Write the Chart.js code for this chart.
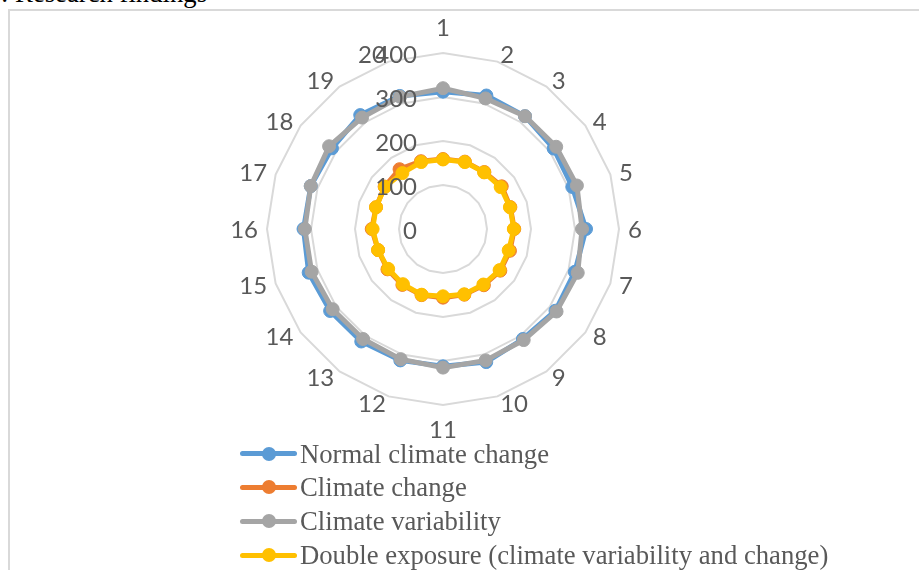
<!DOCTYPE html>
<html>
<head>
<meta charset="utf-8">
<script src="https://cdn.jsdelivr.net/npm/chart.js@4.4.1/dist/chart.umd.min.js"></script>
<style>
  html, body { margin: 0; padding: 0; background: #fff; overflow: hidden; }
  #wrap { position: relative; width: 919px; height: 570px; }
  #frame { position: absolute; left: 8px; top: 9px; width: 1000px; height: 700px;
           border-top: 2px solid #d9d9d9; border-left: 2px solid #d9d9d9; }
  #title { position: absolute; left: 1px; top: -22px; font: 26.7px/30px "Liberation Serif", "Times New Roman", serif;
           color: #000; white-space: nowrap; }
  canvas { position: absolute; left: 0; top: 0; }
  .row { position: absolute; left: 0; height: 30px; width: 919px; }
  .row .ln { position: absolute; left: 240px; top: 12.5px; width: 57px; height: 5px; border-radius: 2.5px; }
  .row .dot { position: absolute; left: 261.5px; top: 8px; width: 14px; height: 14px; border-radius: 7px; }
  .row .tx { position: absolute; left: 300px; top: 0; font: 26.7px/30px "Liberation Serif", "Times New Roman", serif;
             color: #595959; white-space: nowrap; }
</style>
</head>
<body>
<div id="wrap">
  <div id="frame"></div>
  <div id="title">: Research findings</div>
  <canvas id="myChart" width="919" height="570"></canvas>
  <div id="legend"></div>
</div>
<script>
// categorias 1..20
const categories = ['1','2','3','4','5','6','7','8','9','10','11','12','13','14','15','16','17','18','19','20'];

const seriesNames = [
  'Normal climate change',
  'Climate change',
  'Climate variability',
  'Double exposure (climate variability and change)'
];
const seriesColors = ['#5B9BD5', '#ED7D31', '#A5A5A5', '#FFC000'];

// valores
const normalClimateChange = [312, 319, 317, 311, 309, 325, 315, 316, 309, 318, 312, 314, 316, 317, 321, 317, 316, 312, 320, 318];
const climateChange       = [159, 161, 160, 165, 161, 162, 160, 161, 158, 157, 156, 158, 157, 156, 155, 162, 160, 164, 168, 162];
const climateVariability  = [320, 312, 317, 318, 320, 316, 322, 319, 312, 314, 315, 311, 309, 310, 314, 314, 316, 320, 313, 316];
const doubleExposure      = [158, 160, 159, 162, 160, 161, 157, 159, 156, 156, 153, 157, 155, 154, 155, 160, 160, 163, 157, 160];

const tickValues = [0, 100, 200, 300, 400];

const seriesValues = [normalClimateChange, climateChange, climateVariability, doubleExposure];

const labelFont = '24px Lato, "Liberation Sans", sans-serif';
const labelColor = '#595959';

// desenha rótulos no estilo do Excel (ticks à esquerda do eixo, categorias ao redor)
const excelLabels = {
  id: 'excelLabels',
  afterDraw(chart) {
    const r = chart.scales.r;
    const ctx = chart.ctx;
    ctx.save();
    ctx.fillStyle = labelColor;
    ctx.font = labelFont;
    ctx.textBaseline = 'alphabetic';

    ctx.textAlign = 'right';
    tickValues.forEach(v => {
      const y = r.yCenter - r.getDistanceFromCenterForValue(v);
      ctx.fillText(String(v), r.xCenter - 26, y + 10);
    });

    chart.data.labels.forEach((lab, i) => {
      const a = r.getIndexAngle(i);
      const s = Math.sin(a), c = Math.cos(a);
      if (Math.abs(s) < 0.01) {
        ctx.textAlign = 'center';
        const y = c > 0 ? r.yCenter - 193 : r.yCenter + 209;
        ctx.fillText(lab, r.xCenter, y);
      } else {
        ctx.textAlign = s > 0 ? 'left' : 'right';
        const x = r.getPointPosition(i, 185).x;
        const y = r.getPointPosition(i, 183).y + 8.5;
        ctx.fillText(lab, x, y);
      }
    });
    ctx.restore();
  }
};

const datasets = seriesNames.map((name, k) => ({
  label: name,
  data: seriesValues[k],
  borderColor: seriesColors[k],
  backgroundColor: seriesColors[k],
  pointBackgroundColor: seriesColors[k],
  pointBorderColor: seriesColors[k],
  borderWidth: 5,
  pointRadius: 6.5,
  pointBorderWidth: 1,
  fill: false,
  tension: 0,
  order: seriesNames.length - k
}));

const ctx = document.getElementById('myChart');
const chart = new Chart(ctx, {
  type: 'radar',
  data: { labels: categories, datasets: datasets },
  options: {
    responsive: false,
    animation: false,
    devicePixelRatio: 1,
    layout: { padding: { left: 267, top: 53, right: 300, bottom: 165 } },
    plugins: { legend: { display: false }, tooltip: { enabled: false } },
    scales: {
      r: {
        min: 0,
        max: 400,
        ticks: { stepSize: 100, display: false },
        grid: { color: '#d9d9d9', lineWidth: 2 },
        angleLines: { display: false },
        pointLabels: { display: false }
      }
    }
  },
  plugins: [excelLabels]
});

// legenda em HTML
const legend = document.getElementById('legend');
seriesNames.forEach((name, k) => {
  const center = 453.5 + k * 33.9;
  const row = document.createElement('div');
  row.className = 'row';
  row.style.top = (center - 15) + 'px';
  row.innerHTML = `<span class="ln" style="background:${seriesColors[k]}"></span>` +
                  `<span class="dot" style="background:${seriesColors[k]}"></span>` +
                  `<span class="tx">${name}</span>`;
  legend.appendChild(row);
});
</script>
</body>
</html>
